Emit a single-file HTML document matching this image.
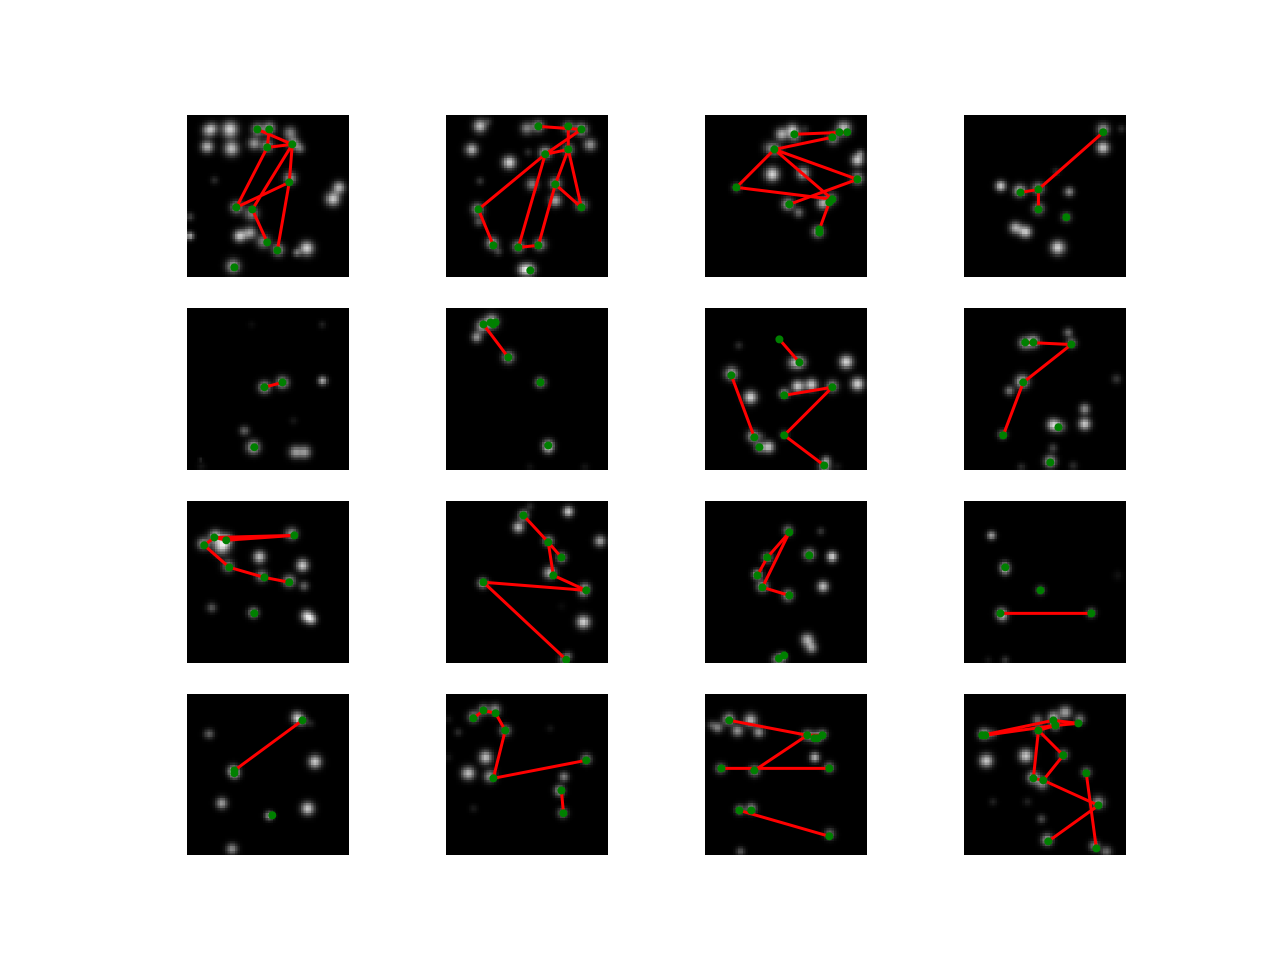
<!DOCTYPE html>
<html lang="en">
<head>
<meta charset="utf-8">
<title>Keypoint detections grid</title>
<style>
html,body{margin:0;padding:0;background:#fff;}
#figure{position:relative;width:1280px;height:960px;background:#fff;overflow:hidden;}
.panel{position:absolute;width:162px;height:162px;background:#000;overflow:hidden;}
.panel canvas{position:absolute;left:0;top:0;width:162px;height:162px;image-rendering:pixelated;display:block;}
.panel svg{position:absolute;left:0;top:0;width:162px;height:162px;display:block;}
</style>
</head>
<body>
<div id="figure"></div>
<script>
// Image-space data: every coordinate is in image pixels on a 64x64 grid.
const imageSize = 64;
const columnLefts = [187, 446, 705, 964];
const rowTops = [115, 308, 501, 694];
const rowHeights = [162, 162, 162, 161];

const pointSets = [
 [[27.8,5.7],[32.5,5.7],[31.7,12.8],[41.6,11.6],[40.4,26.6],[19.5,36.5],[25.8,37.3],[31.7,50.3],[35.7,53.5],[18.7,60.2]],
 [[36.5,4.5],[48.3,4.5],[53.5,5.7],[48.3,13.6],[39.2,15.5],[43.2,27.4],[53.5,36.5],[12.8,37.3],[18.7,51.5],[28.6,52.3],[36.5,51.5],[33.3,61.4]],
 [[35.3,7.6],[53.1,6.8],[56.2,6.8],[50.3,8.8],[27.4,13.6],[60.2,25.4],[12.4,28.6],[50.3,33.3],[49.1,34.5],[33.3,35.3],[45.2,45.2],[45.2,46.4]],
 [[55,6.8],[29.4,29.4],[22.3,30.6],[29.4,37.3],[40.4,40.4]],
 [[30.6,31.3],[37.7,29.4],[26.6,55]],
 [[14.8,6.5],[17.6,5.7],[19.6,5.7],[18.7,6.5],[24.6,19.5],[37.3,29.4],[40.4,54.3]],
 [[29.4,12.4],[37.3,21.5],[10.4,26.6],[50.3,31.3],[31.3,34.5],[31.3,50.3],[19.5,51.1],[21.5,55],[47.1,62.2]],
 [[24.2,13.6],[27.4,13.6],[42.4,14.4],[23.4,29.4],[15.5,50.3],[37.3,47.1],[34.1,61]],
 [[10.8,14.4],[15.5,15.5],[6.8,17.5],[42.4,13.6],[16.7,26.2],[30.6,30.2],[40.4,32.1],[26.6,44.4]],
 [[30.6,5.7],[40.4,16.3],[45.6,22.3],[42.4,29.4],[55.4,35.3],[14.8,32.1],[47.5,62.7]],
 [[33.3,12.4],[24.6,22.3],[20.7,29.4],[22.7,34.1],[33.3,37.3],[41.2,21.5],[31.3,61],[29.2,62.2]],
 [[16.3,26.2],[30.2,35.3],[14.4,44.4],[50.3,44.4]],
 [[45.6,10.4],[18.7,30.2],[18.7,31.3],[33.7,47.9]],
 [[10.8,9.6],[14.8,6.5],[19.6,7.6],[23.4,14.4],[18.7,33.3],[55.4,26.2],[45.6,38.1],[46.4,47.1]],
 [[9.6,10.4],[40.4,16.3],[46.4,16.3],[43.2,17.5],[44.4,17.5],[6.5,29.4],[19.5,30.2],[49.1,29.4],[13.6,46],[18.3,46],[49.1,56.2]],
 [[7.2,16.3],[8.4,16.3],[35.3,10.4],[36.1,12.4],[45.2,11.6],[29.4,14.4],[39.2,24.2],[48.3,31.3],[27.4,33.3],[31.3,34.1],[53.1,44],[33.3,58.2],[52.3,61]]
];

// Pairs of indices into the matching pointSets entry.
const edgeSets = [
 [[0,3],[1,2],[2,3],[2,5],[3,6],[3,4],[4,5],[4,8],[6,7]],
 [[0,2],[1,3],[2,4],[4,3],[3,5],[3,6],[5,6],[5,10],[4,9],[4,7],[7,8],[9,10]],
 [[0,2],[3,4],[4,5],[4,6],[4,7],[6,7],[5,9],[8,10],[10,11]],
 [[0,1],[1,2],[1,3]],
 [[0,1]],
 [[0,4]],
 [[0,1],[2,6],[3,4],[3,5],[5,8]],
 [[0,2],[2,3],[3,4]],
 [[0,3],[1,3],[0,1],[0,2],[2,4],[4,5],[5,6]],
 [[0,1],[1,2],[1,3],[3,4],[4,5],[5,6]],
 [[0,1],[1,2],[0,3],[3,4]],
 [[2,3]],
 [[0,1]],
 [[0,1],[1,2],[2,3],[3,4],[4,5],[6,7]],
 [[0,1],[1,2],[1,6],[5,7],[8,10]],
 [[0,2],[1,3],[2,4],[3,4],[5,3],[5,8],[5,6],[6,9],[8,9],[9,10],[10,11],[7,12]]
];

// Each blob: x, y, peak brightness, optional width.
const blobSets = [
 [[8.4,6.2,.6],[10,5.3,.5],[17,5.7,1,1.9],[8,12.5,.85],[17.6,13.2,.9,1.8],[26.5,11.2,.7],[27.8,5.7,.7],[32.5,5.3,.8],[40.7,7,.6],[31.7,12.2,.7],[42,11.2,.7],[44.6,13.2,.5,1.2],[40.7,25,.7],[10.8,25.7,.2,1],[60,28.6,.85],[57.6,33.2,.95,1.7],[19.6,36.5,.75],[25.5,38.9,.6,1.7],[20.9,47.8,.95],[24.9,46.5,.75],[1.2,40.2,.3,1],[1.2,47.8,.8,1],[30.2,50,.6,1.7],[36.1,53.3,.7],[47.3,52.7,1,1.7],[43.3,54.4,.5,1],[18.3,59.7,.8,1.7]],
 [[13.4,4.4,.9,1.6],[16.7,2.6,.2,1],[10.1,13.6,.85],[25,18.8,1,1.6],[32.5,14.7,.2,1],[13.4,26,.25,1],[31.9,5.3,.6],[36.5,4.5,.7],[48.3,4.9,.6],[53.5,5.7,.8],[56.9,11.7,.7],[48.3,13.6,.6],[39.2,14.9,.8],[34.1,27.3,.6],[43.2,27,.7],[43.1,33.8,.8],[53.5,35.6,.6],[12.4,37.3,.7],[13,42.1,.4,1.2],[18.3,50.7,.8],[20.7,54,.3,1],[28.6,52,.7],[37.1,51.2,.7],[30.6,61,.8],[33.2,61,.8]],
 [[30.2,7.6,.8],[34.5,5.9,.8],[35.4,8.3,.5],[39.4,5.7,.2,1],[54.8,5.3,.9,1.7],[50.6,9.2,.6],[25.3,12.9,.4],[27.8,13.6,.6],[60.2,17.8,.95],[61.4,15.1,.4,1],[26.5,23.4,1,1.7],[38.7,23,.8],[60.2,25,.7],[12.4,28.6,.4,1.2],[32.8,35.3,.8],[37.1,38.5,.5,1.2],[46.6,34.9,.8],[50,32.9,.5],[44.6,46.1,.7]],
 [[55,5.7,.7],[54.9,12.9,.95],[62.2,5.5,.2,1],[14.5,28,.95,1.3],[22,29.9,.85],[29.3,29,.7],[36.4,22.4,.2,1],[41.5,30.3,.65,1.2],[29.4,37,.6],[40.4,40.4,.4,1.3],[20.4,44.5,.8],[24.3,46.1,.95],[37.1,52.4,1,1.7]],
 [[30.6,31.3,.8],[37.7,29.4,.8],[53.6,28.7,.8,1.1],[53.5,6.6,.15,.9],[25.5,6.6,.06,.9],[22.7,48.5,.45,1.2],[26.2,55,.85,1.6],[42.7,56.9,.7,1.5],[46.6,56.9,.7,1.5],[42,44.5,.1,1],[5.4,59.9,.2,.5],[5.8,62.6,.1,1]],
 [[14.1,7.2,.7],[18,5.3,.9,1.7],[12.1,11.5,.7,1.3],[24.6,19.5,.7],[37.3,29.4,.7,1.3],[40.4,54.3,.85,1.4],[40.4,56,.3,1.2],[33.2,62.8,.08,1],[54.9,62.8,.1,1]],
 [[13.3,14.8,.2,1],[37.4,21.5,.8],[34.8,21.7,.5],[55.8,21.3,1,1.6],[10.4,25.9,.85,1.6],[18,35.3,1,1.6],[31.3,33.8,.7,1.3],[36.7,30.9,.95],[42,30.3,.95],[50.3,30.9,.7],[60.2,30,1,1.6],[19,50.7,.75],[22.3,50.7,.2,1],[21.6,55,.6,1.3],[25.1,54.9,.9,1.4],[31.3,50,.3,1.2],[47.9,60,.5,1.1],[47.3,62.6,.7],[52.5,62.6,.1,1]],
 [[24,13.8,.7],[27.4,13.2,.85],[41.1,9.6,.5,1.1],[42.4,13.8,.55,1.3],[23,29,.9,1.6],[18,32.7,.55,1.2],[60.2,28,.25,1.2],[47.7,39.9,.65,1.3],[47.7,45.8,.95],[35.2,46.1,.9],[37.8,46.8,.5],[15.2,50,.5,1.2],[35.2,55.3,.3,1.1],[34.1,60.6,.8],[22.7,62.8,.2,1],[43.1,62.3,.2,1.1]],
 [[6.5,16.9,.7],[11.1,13.8,.85],[13.7,17.8,1,2],[15.7,15.1,.7],[41.3,12.9,.7],[28.6,22.1,.9],[16.3,25.7,.6],[29.5,29.6,.6],[45.6,25.4,.95],[40.4,31.6,.7],[46.2,33.6,.45,1.2],[9.7,42.1,.4,1.2],[26.2,44.1,.75,1.3],[47.3,45.4,.9],[49.3,46.8,.7,1.3]],
 [[30.6,5.7,.75,1.3],[33.2,2.2,.2,1],[28.6,10.3,.85,1.4],[48.3,4.2,.95,1.3],[60.8,15.8,.75,1.4],[40.4,15.8,.7,1.3],[45.6,22.3,.65,1.3],[41.1,28.3,.85],[54.9,34.2,.55,1.3],[54.3,36.2,.5,1.3],[14.5,32.5,.75,1.3],[54.3,47.8,1,1.6],[48.3,61.2,.4,1.1],[46.4,62.6,.5,1.2],[45.7,41.5,.05,1]],
 [[32.8,11.6,.55,1.3],[45.7,11.9,.25,1],[24.6,22.3,.6,1.3],[41.2,21.1,.75,1.4],[50.2,22,1,1.3],[20.7,29,.9,1.2],[22.7,33.8,.75,1.4],[32.8,37.3,.75,1.4],[46.6,33.8,.9,1.4],[40.4,54.7,.8,1.5],[42,57.9,.7,1.4],[30.2,61.9,.7,1.3],[27.8,62.6,.4,1.2]],
 [[10.8,13.6,.75,1.1],[16.1,25.9,.7,1.3],[16.3,27.7,.4,1.2],[30.2,35.3,.4,1.2],[14.8,44.4,.8,1.4],[15.4,46.1,.3,1.3],[50.3,44.1,.5,1.2],[60.8,29.4,.08,1.2],[16.3,62.8,.25,1],[9.5,62.8,.1,.9]],
 [[43.3,9.2,.8,1.4],[45.3,10.5,.6,1.3],[48.9,11.6,.15,1],[8.7,15.8,.45,1.2],[50.6,26.7,.95,1.6],[18.3,30.3,.8,1.4],[19,31.6,.5,1.3],[13.7,43.1,.75,1.4],[47.7,45.2,.95,1.6],[32.5,48.1,.75,1.1],[17.8,61.2,.65,1.4]],
 [[10.8,9,.65,1.4],[14.8,6.2,.6,1.3],[19.4,6.2,.65,1.4],[23.4,14.4,.6,1.4],[4.9,15.1,.2,1],[41.1,13.6,.1,.9],[15.7,25,.9,1.6],[8.8,31.3,.9,1.6],[17.4,32.5,.7,1.5],[55.4,25.7,.6,1.3],[46.6,32.7,.6,1.2],[44.8,38.2,.75,1.3],[46.1,47,.55,1.3],[10.8,45.2,.12,1],[.9,9.9,.1,1],[.9,25,.1,1]],
 [[5.1,13.2,.6,1.3],[2.5,12.2,.3,1.1],[9.4,9.9,.85,1.4],[12.8,14.5,.7,1.4],[18,10.3,.85,1.6],[21.3,15.1,.7,1.3],[40.4,16.3,.7,1.3],[44,17.1,.7,1.4],[46.6,15.8,.5,1.2],[43.3,25,.85,1.2],[6.2,29.4,.55,1.3],[19.6,30.3,.65,1.4],[49.1,29,.6,1.3],[13.7,45.7,.6,1.2],[18.3,45.2,.7,1.3],[49.3,55.3,.5,1.3],[14,62.2,.4,1.1]],
 [[7.9,15.8,.8,1.4],[11.4,15.8,.3,1.2],[29,10.1,.5,1.3],[35.3,9.2,.8,1.4],[40,7.2,.75,1.5],[45.7,9.9,.55,1.3],[36.1,12.4,.6,1.3],[29.4,14.4,.5,1.3],[39.2,24,.55,1.3],[8.8,26.3,.95,1.6],[24.4,24.4,.95,1.6],[48.3,30.9,.5,1.3],[27.3,33,.85,1.5],[30.9,35.3,.65,1.5],[53.1,42.8,.7,1.5],[11.4,42.5,.15,1],[25,42.5,.15,1],[30.6,49.4,.35,1.1],[32.9,57.6,.8,1.4],[51.6,60,.6,1.3],[56.2,62.2,.5,1.3]]
];

const panelSize = 162;
const defaultBlobWidth = 1.5;
const blobWidthGain = 1.12;
const blobBrightnessGain = 0.82;
const svgNS = 'http://www.w3.org/2000/svg';
function xScale(v){ return v * panelSize / imageSize; }
function yScale(v){ return v * panelSize / imageSize; }

function paintImage(canvas, blobs){
  const ctx = canvas.getContext('2d');
  const img = ctx.createImageData(imageSize, imageSize);
  for(let j = 0; j < imageSize; j++){
    for(let i = 0; i < imageSize; i++){
      let sum = 0;
      for(const b of blobs){
        const s = (b[3] || defaultBlobWidth) * blobWidthGain;
        const dx = i + .5 - b[0], dy = j + .5 - b[1];
        sum += b[2] * blobBrightnessGain * Math.exp(-(dx * dx + dy * dy) / (2 * s * s));
      }
      const g = Math.round(255 * Math.min(1, sum));
      const k = (j * imageSize + i) * 4;
      img.data[k] = g; img.data[k + 1] = g; img.data[k + 2] = g; img.data[k + 3] = 255;
    }
  }
  ctx.putImageData(img, 0, 0);
}

const figure = document.getElementById('figure');
pointSets.forEach(function(points, p){
  const rowIndex = Math.floor(p / 4);
  const panel = document.createElement('div');
  panel.className = 'panel';
  panel.style.left = columnLefts[p % 4] + 'px';
  panel.style.top = rowTops[rowIndex] + 'px';
  panel.style.height = rowHeights[rowIndex] + 'px';
  
  

  const canvas = document.createElement('canvas');
  canvas.width = imageSize;
  canvas.height = imageSize;
  
  
  paintImage(canvas, blobSets[p]);
  panel.appendChild(canvas);

  const svg = document.createElementNS(svgNS, 'svg');
  svg.setAttribute('viewBox', '0 0 ' + panelSize + ' ' + panelSize);
  
  

  edgeSets[p].forEach(function(edge){
    const a = points[edge[0]], b = points[edge[1]];
    const line = document.createElementNS(svgNS, 'line');
    line.setAttribute('x1', xScale(a[0]));
    line.setAttribute('y1', yScale(a[1]));
    line.setAttribute('x2', xScale(b[0]));
    line.setAttribute('y2', yScale(b[1]));
    line.setAttribute('stroke', '#ff0000');
    line.setAttribute('stroke-width', '3');
    line.setAttribute('stroke-linecap', 'round');
    
    
    svg.appendChild(line);
  });

  points.forEach(function(pt){
    const dot = document.createElementNS(svgNS, 'circle');
    dot.setAttribute('cx', xScale(pt[0]));
    dot.setAttribute('cy', yScale(pt[1]));
    dot.setAttribute('r', '4');
    dot.setAttribute('fill', '#008000');
    
    
    svg.appendChild(dot);
  });

  panel.appendChild(svg);
  figure.appendChild(panel);
});
</script>
</body>
</html>
